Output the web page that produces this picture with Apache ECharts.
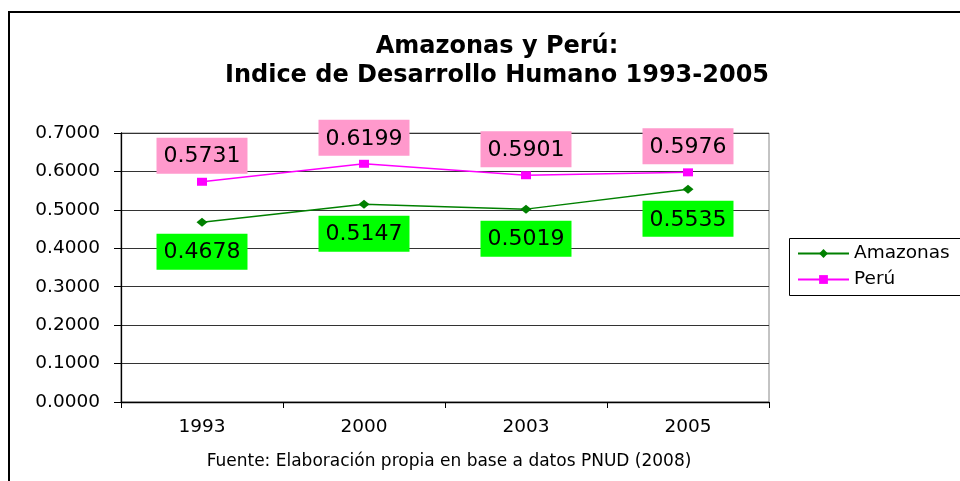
<!DOCTYPE html>
<html>
<head>
<meta charset="utf-8">
<script src="https://cdn.jsdelivr.net/npm/echarts@6/dist/echarts.min.js"></script>
<style>html,body{margin:0;padding:0;background:#fff;}#c{width:960px;height:481px;}</style>
</head>
<body>
<div id="c"></div>
<script>
const categories = ['1993', '2000', '2003', '2005'];
const amazonas = [0.4678, 0.5147, 0.5019, 0.5535];
const peru = [0.5731, 0.6199, 0.5901, 0.5976];
const titleLines = ['Amazonas y Perú:', 'Indice de Desarrollo Humano 1993-2005'];
const sourceText = 'Fuente: Elaboración propia en base a datos PNUD (2008)';

const FONT = 'DejaVu Sans';
const chart = echarts.init(document.getElementById('c'), null, {renderer: 'canvas'});
chart.setOption({
  backgroundColor: '#fff',
  animation: false,
  title: [
    {
      text: titleLines.join('\n'),
      left: 492, top: 27, textAlign: 'center',
      textStyle: {fontFamily: FONT, fontWeight: 'bold', fontSize: 24, lineHeight: 29, color: '#000'}
    },
    {
      text: sourceText,
      left: 444, top: 448, textAlign: 'center',
      textStyle: {fontFamily: FONT, fontWeight: 'normal', fontSize: 17, color: '#000'}
    }
  ],
  graphic: [
    {
      type: 'rect', silent: true,
      shape: {x: 9, y: 12, width: 1200, height: 1000},
      style: {fill: 'none', stroke: '#000', lineWidth: 2}
    },
    {
      type: 'rect', silent: true,
      shape: {x: 789.5, y: 238.5, width: 300, height: 57},
      style: {fill: 'none', stroke: '#000', lineWidth: 1}
    }
  ],
  legend: {
    orient: 'vertical', left: 789, top: 238,
    borderWidth: 0, padding: [6, 8, 5, 8],
    itemWidth: 51, itemHeight: 11, itemGap: 7,
    textStyle: {fontFamily: FONT, fontSize: 18.5, color: '#000'},
    data: ['Amazonas', 'Perú']
  },
  grid: {left: 121, right: 191, top: 133, bottom: 79, show: true, borderColor: '#888', borderWidth: 1, containLabel: false},
  xAxis: {
    type: 'category', data: categories, boundaryGap: true,
    axisLine: {lineStyle: {color: '#000', width: 1.3}},
    axisTick: {show: true, length: 6, interval: 0, lineStyle: {color: '#000'}},
    axisLabel: {margin: 16, fontFamily: FONT, fontSize: 18.5, color: '#000'},
    splitLine: {show: false}
  },
  yAxis: {
    type: 'value', min: 0, max: 0.7, interval: 0.1,
    axisLine: {show: true, lineStyle: {color: '#000', width: 1.3}},
    axisTick: {show: true, length: 7, lineStyle: {color: '#000'}},
    axisLabel: {margin: 21, fontFamily: FONT, fontSize: 18.5, color: '#000', formatter: v => v.toFixed(4)},
    splitLine: {show: true, lineStyle: {color: '#333', width: 1}}
  },
  series: [
    {
      name: 'Amazonas', type: 'line', data: amazonas,
      symbol: 'diamond', symbolSize: [11, 9],
      itemStyle: {color: '#008000'},
      lineStyle: {color: '#008000', width: 1.5},
      label: {
        show: true, position: 'bottom', distance: 7,
        formatter: p => p.value.toFixed(4),
        fontFamily: FONT, fontSize: 22, color: '#000',
        backgroundColor: '#00FF00', padding: [8, 7, 6, 7]
      }
    },
    {
      name: 'Perú', type: 'line', data: peru,
      symbol: 'rect', symbolSize: [10, 8],
      itemStyle: {color: '#FF00FF'},
      lineStyle: {color: '#FF00FF', width: 1.5},
      label: {
        show: true, position: 'top', distance: 4,
        formatter: p => p.value.toFixed(4),
        fontFamily: FONT, fontSize: 22, color: '#000',
        backgroundColor: '#FF99CC', padding: [8, 7, 6, 7]
      }
    }
  ]
});
</script>
</body>
</html>
